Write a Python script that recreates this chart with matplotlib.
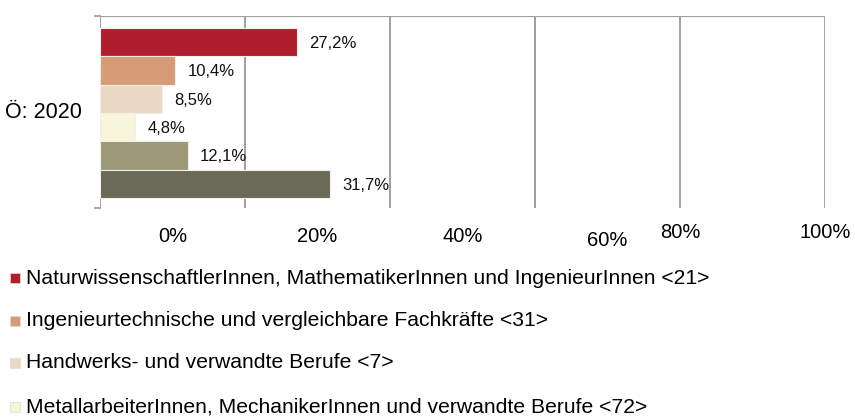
import matplotlib.pyplot as plt
from matplotlib.patches import Rectangle

plt.rcParams['font.family'] = ['Liberation Sans', 'DejaVu Sans']

category = 'Ö: 2020'
series_names = [
    'NaturwissenschaftlerInnen, MathematikerInnen und IngenieurInnen <21>',
    'Ingenieurtechnische und vergleichbare Fachkräfte <31>',
    'Handwerks- und verwandte Berufe <7>',
    'MetallarbeiterInnen, MechanikerInnen und verwandte Berufe <72>',
    'Serie 5',
    'Serie 6',
]
values = [27.2, 10.4, 8.5, 4.8, 12.1, 31.7]
colors = ['#B01E2E', '#D79B78', '#E8D8C4', '#F7F5DC', '#9C9878', '#6B6A58']
tick_values = [0, 20, 40, 60, 80, 100]
tick_labels = ['0%', '20%', '40%', '60%', '80%', '100%']

W, H = 855, 417
fig = plt.figure(figsize=(W / 100, H / 100), dpi=100)
ax = fig.add_axes([100 / W, 1 - 208 / H, 725 / W, 192 / H])

pos = list(range(len(values)))
ax.barh(pos, values, height=1.0, color=colors, edgecolor='#F4EEE6', linewidth=0.8, zorder=3)
for p, v in zip(pos, values):
    ax.text(v + 1.7, p + 0.05, f'{v:.1f}%'.replace('.', ','), va='center', ha='left',
            fontsize=12, color='#111111', zorder=4)

ax.set_xlim(0, 100)
ax.set_ylim(5.85, -0.92)
for t in tick_values:
    ax.axvline(t, color='#A0A0A0', linewidth=1.4, zorder=1)
ax.axhline(-0.92, color='#A0A0A0', linewidth=1.6, zorder=2)

for s in ax.spines.values():
    s.set_visible(False)
ax.set_xticks([])
ax.set_yticks([])
# small category ticks at top and bottom of the left axis
for yy in (-0.92, 5.85):
    ax.plot([-0.7, 0], [yy, yy], color='#A0A0A0', linewidth=1.3, clip_on=False)

ax.text(-2.5, 2.5, category, ha='right', va='center', fontsize=15.5)

# x tick labels (placed as in the original, partly offset)
label_x = [10, 30, 50, 70, 80, 100]
label_y = [237, 237, 237, 241, 233, 233]
for lx, ly, lab in zip(label_x, label_y, tick_labels):
    fig.text((100 + lx * 7.25) / W, 1 - ly / H, lab, ha='center', va='center', fontsize=14.5)

# legend (only the first four entries are visible)
rows_y = [278, 321, 363, 407]
for name, c, ry in zip(series_names[:4], colors[:4], rows_y):
    fig.patches.append(Rectangle((10 / W, 1 - (ry + 5) / H), 10 / W, 10 / H,
                                 transform=fig.transFigure, facecolor=c,
                                 edgecolor='#E0DCC8', linewidth=0.5))
    fig.text(26 / W, 1 - ry / H, name, ha='left', va='center', fontsize=15.2)

fig.savefig('out.png', dpi=100)
